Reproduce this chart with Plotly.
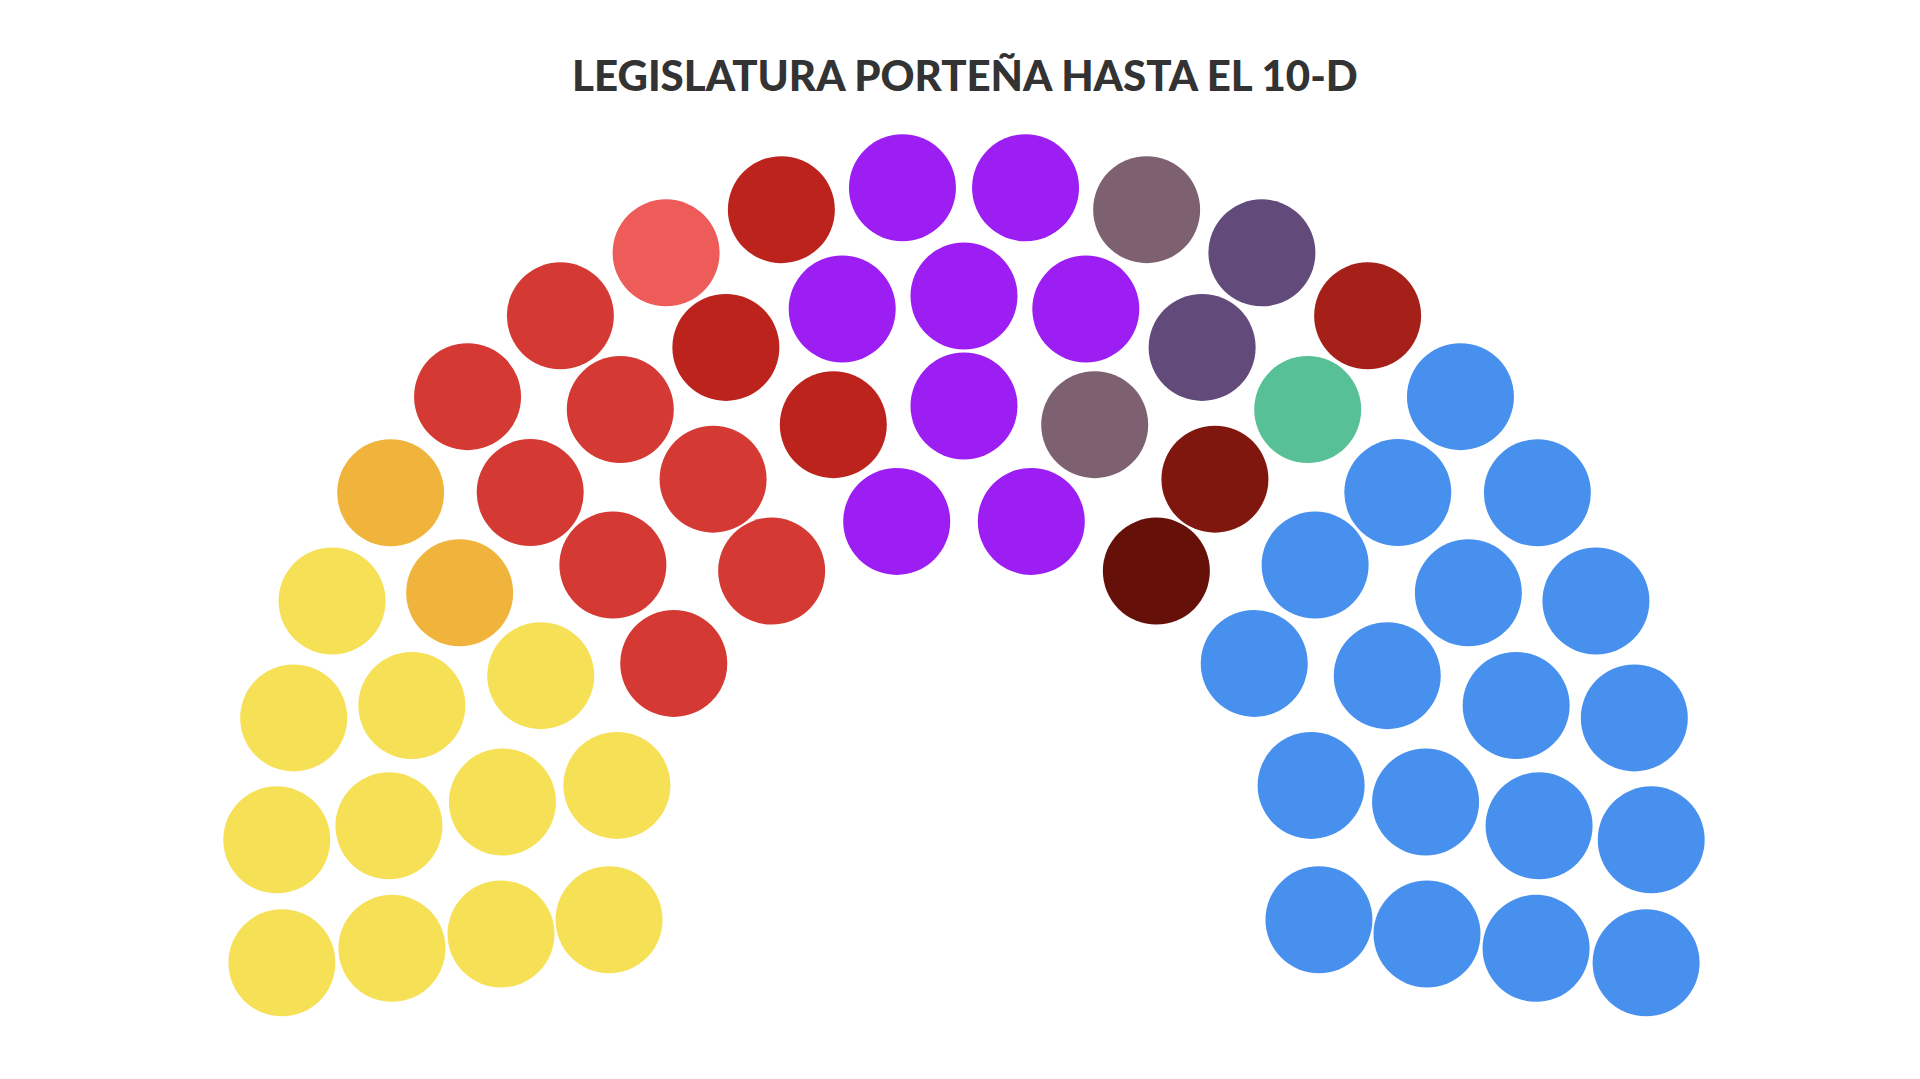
import numpy as np
import plotly.graph_objects as go

# bloques en el orden del hemiciclo (izquierda -> derecha)
party_seats = [12, 2, 8, 1, 3, 8, 2, 2, 1, 1, 1, 1, 18]
party_colors = ["#F6E055", "#F0B43C", "#D43A33", "#EE5C5A", "#BC231D", "#9C1EF2",
                "#7D6170", "#624A7A", "#66100A", "#80170F", "#A52018", "#57C096", "#4790EE"]

# filas del hemiciclo: bancas por fila y radio (px)
row_seats = [20, 17, 13, 10]
row_radii = [688, 577, 467, 358]
ang_start, ang_end = -7.5, 187.5

seats = []
for n, r in zip(row_seats, row_radii):
    for ang in np.linspace(ang_start, ang_end, n):
        seats.append((round(ang, 6), r))
seats.sort()

colors = []
for c, n in zip(party_colors, party_seats):
    colors += [c] * n

xs = [-r * np.cos(np.radians(a)) for a, r in seats]
ys = [r * np.sin(np.radians(a)) for a, r in seats]

fig = go.Figure(go.Scatter(
    x=xs, y=ys, mode="markers",
    marker=dict(size=107, color=colors, line=dict(width=0)),
    hoverinfo="skip", showlegend=False,
))

fig.update_layout(
    width=1920, height=1079,
    margin=dict(l=0, r=0, t=0, b=0),
    paper_bgcolor="white", plot_bgcolor="white",
    title=dict(text="LEGISLATURA PORTEÑA HASTA EL 10-D",
               x=0.4984, xanchor="center", y=1 - 68 / 1079, yanchor="middle",
               font=dict(family="Lato", size=42, weight=900, color="#333333")),
    xaxis=dict(range=[-956, 964], visible=False, fixedrange=True),
    yaxis=dict(range=[-214, 865], visible=False, fixedrange=True),
)

fig.write_html("out.html")
